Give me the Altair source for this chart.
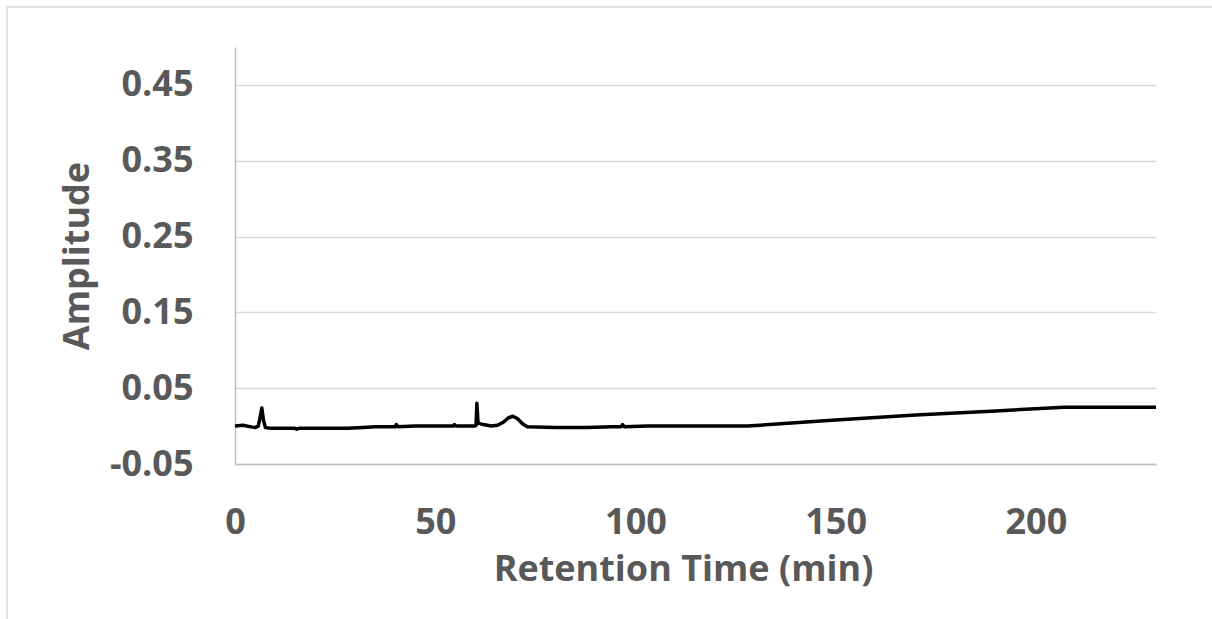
import altair as alt
import pandas as pd

# Chromatogram trace
time_min = [0, 2, 4, 5, 5.8, 6.3, 6.7, 7.1, 7.6, 9, 12, 15, 15.4, 16, 20, 28, 32, 35,
            40, 40.3, 40.7, 45, 50, 54.5, 54.8, 55.2, 59.9, 60.2, 60.4, 60.7, 62, 64,
            65.5, 67, 68.3, 69.4, 70.5, 71.8, 73, 80, 88, 94, 96.4, 96.8, 97.3, 103,
            115, 128, 150, 170, 190, 207, 220, 230]
amplitude = [0.000, 0.001, -0.001, -0.002, 0.000, 0.012, 0.024, 0.008, -0.002, -0.003,
             -0.003, -0.003, -0.004, -0.003, -0.003, -0.003, -0.002, -0.001,
             -0.001, 0.002, -0.001, 0.000, 0.000, 0.000, 0.002, 0.000, 0.000, 0.001,
             0.030, 0.004, 0.002, 0.000, 0.001, 0.005, 0.011, 0.013, 0.010, 0.003,
             -0.001, -0.002, -0.002, -0.001, -0.001, 0.002, -0.001, 0.000,
             0.000, 0.000, 0.008, 0.0145, 0.020, 0.025, 0.025, 0.025]

x_ticks = [0, 50, 100, 150, 200]
y_ticks = [-0.05, 0.05, 0.15, 0.25, 0.35, 0.45]

df = pd.DataFrame({"t": time_min, "a": amplitude})

TEXT = "#595959"
FONT = "Open Sans"

W, H = 921, 417
PAD_L, PAD_T = 235, 47

line = alt.Chart(df).mark_line(color="black", strokeWidth=3.5, strokeJoin="round").encode(
    x=alt.X("t:Q", scale=alt.Scale(domain=[0, 230], nice=False, zero=False),
            axis=alt.Axis(values=x_ticks, title="Retention Time (min)", grid=False,
                          ticks=False, domainColor="#bfbfbf", domainWidth=1.5,
                          labelFont=FONT, labelFontSize=36, labelFontWeight="bold",
                          labelColor=TEXT, labelBaseline="alphabetic", labelPadding=69,
                          labelFlush=False, labelOverlap=False,
                          titleFont=FONT, titleFontSize=36, titleFontWeight="bold",
                          titleColor=TEXT, titleX=448, titleY=116,
                          titleBaseline="alphabetic", titleAlign="center")),
    y=alt.Y("a:Q", scale=alt.Scale(domain=[-0.05, 0.5], nice=False, zero=False),
            axis=alt.Axis(values=y_ticks, title="Amplitude", grid=True,
                          gridColor="#d9d9d9", gridWidth=1.5, ticks=False,
                          domainColor="#bfbfbf", domainWidth=1.5,
                          labelExpr="datum.value < 0 ? '-' + format(abs(datum.value), '.2f') : format(datum.value, '.2f')",
                          labelFont=FONT, labelFontSize=36, labelFontWeight="bold",
                          labelColor=TEXT, labelPadding=42, labelFlush=False,
                          labelOverlap=False,
                          titleFont=FONT, titleFontSize=36, titleFontWeight="bold",
                          titleColor=TEXT, titleX=-158, titleY=H / 2,
                          titleBaseline="middle", titleAngle=-90, titleAlign="center")),
)

border = alt.Chart(pd.DataFrame({"k": [0]})).mark_rect(
    fill=None, stroke="#d9d9d9", strokeWidth=1.5
).encode(
    x=alt.value(7 - PAD_L), x2=alt.value(1212 - PAD_L + 20),
    y=alt.value(7 - PAD_T), y2=alt.value(619 - PAD_T + 20),
)

chart = alt.layer(border, line).properties(
    width=W, height=H,
    autosize=alt.AutoSizeParams(type="none"),
    padding={"left": PAD_L, "top": PAD_T, "right": 1212 - PAD_L - W, "bottom": 619 - PAD_T - H},
    background="white",
).configure_view(stroke=None)

chart.save("out.html", embed_options={"renderer": "svg", "actions": False})
